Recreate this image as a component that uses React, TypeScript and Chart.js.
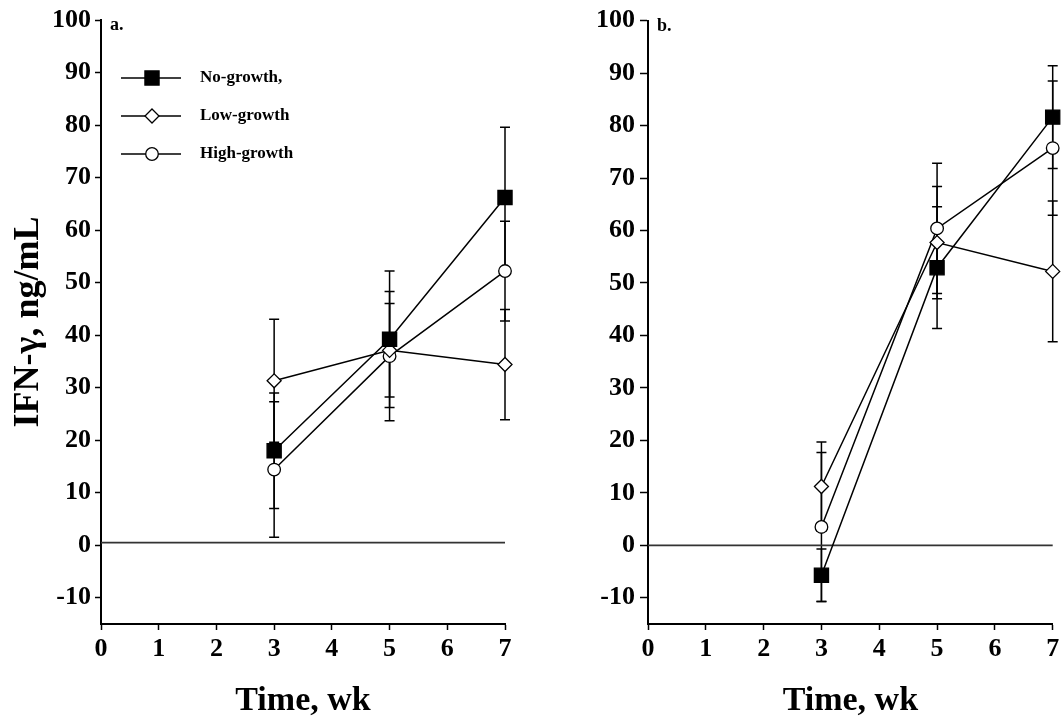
import React, { useEffect, useRef } from "react";
import { Chart, registerables } from "chart.js";

Chart.register(...registerables);

// ---------- data ----------
const weeks = [3, 5, 7];
const xTickValues = [0, 1, 2, 3, 4, 5, 6, 7];
const yTickValues = [-10, 0, 10, 20, 30, 40, 50, 60, 70, 80, 90, 100];
const yMin = -15;
const yMax = 100;
const xMin = 0;
const xMax = 7;

const seriesNames = ["No-growth,", "Low-growth", "High-growth"];
const xTitle = "Time, wk";
const yTitle = "IFN-γ, ng/mL";
const panelLabels = ["a.", "b."];

// panel a
const noGrowthA = [18.0, 39.2, 66.2];
const noGrowthAErr = [11.0, 13.0, 13.4];
const lowGrowthA = [31.3, 37.1, 34.4];
const lowGrowthAErr = [11.7, 8.9, 10.5];
const highGrowthA = [14.4, 36.0, 52.2];
const highGrowthAErr = [12.9, 12.3, 9.5];
const baselineA = 0.5;

// panel b
const noGrowthB = [-5.7, 52.9, 81.6];
const noGrowthBErr = [5.0, 11.6, 9.8];
const lowGrowthB = [11.2, 57.7, 52.2];
const lowGrowthBErr = [8.5, 10.7, 13.4];
const highGrowthB = [3.5, 60.4, 75.7];
const highGrowthBErr = [14.2, 12.4, 12.8];
const baselineB = 0;

// ---------- styles ----------
const FONT = "'Liberation Serif', 'Times New Roman', serif";
const seriesStyles = [
  { pointStyle: "rect", radius: 10, fill: "#000" },
  { pointStyle: "rectRot", radius: 7, fill: "#fff" },
  { pointStyle: "circle", radius: 6.3, fill: "#fff" },
];

const errorBarPlugin = {
  id: "errorBars",
  beforeDatasetsDraw(chart: any) {
    const { ctx, scales } = chart;
    const x = scales.x;
    const y = scales.y;
    ctx.save();
    ctx.strokeStyle = "#000";
    ctx.lineWidth = 1.5;
    chart.data.datasets.forEach((ds: any) => {
      if (!ds.errors) return;
      ds.data.forEach((p: any, i: number) => {
        const e = ds.errors[i];
        const px = x.getPixelForValue(p.x);
        const top = y.getPixelForValue(p.y + e);
        const bot = y.getPixelForValue(p.y - e);
        ctx.beginPath();
        ctx.moveTo(px, top);
        ctx.lineTo(px, bot);
        ctx.moveTo(px - 5, top);
        ctx.lineTo(px + 5, top);
        ctx.moveTo(px - 5, bot);
        ctx.lineTo(px + 5, bot);
        ctx.stroke();
      });
    });
    ctx.restore();
  },
};

function drawMarker(ctx: CanvasRenderingContext2D, style: string, r: number, fill: string, cx: number, cy: number) {
  ctx.beginPath();
  if (style === "rect") {
    const s = Math.SQRT1_2 * r;
    ctx.rect(cx - s, cy - s, 2 * s, 2 * s);
  } else if (style === "rectRot") {
    ctx.moveTo(cx, cy - r);
    ctx.lineTo(cx + r, cy);
    ctx.lineTo(cx, cy + r);
    ctx.lineTo(cx - r, cy);
    ctx.closePath();
  } else {
    ctx.arc(cx, cy, r, 0, Math.PI * 2);
  }
  ctx.fillStyle = fill;
  ctx.fill();
  ctx.stroke();
}

const panelDecorPlugin = {
  id: "panelDecor",
  afterDraw(chart: any, _args: any, opts: any) {
    const { ctx, chartArea } = chart;
    ctx.save();
    ctx.fillStyle = "#000";
    ctx.font = `bold 18px ${FONT}`;
    ctx.textBaseline = "alphabetic";
    ctx.textAlign = "left";
    ctx.fillText(opts.label, chartArea.left + 9, chartArea.top + 10);
    if (opts.legend) {
      const rows = [58, 96, 134];
      seriesNames.forEach((name, i) => {
        const yy = chartArea.top + rows[i];
        const st = seriesStyles[i];
        ctx.strokeStyle = "#000";
        ctx.lineWidth = 1.5;
        ctx.beginPath();
        ctx.moveTo(chartArea.left + 20, yy);
        ctx.lineTo(chartArea.left + 80, yy);
        ctx.stroke();
        ctx.lineWidth = 1.3;
        drawMarker(ctx, st.pointStyle, st.radius, st.fill, chartArea.left + 51, yy);
        ctx.fillStyle = "#000";
        ctx.font = `bold 17px ${FONT}`;
        ctx.textBaseline = "middle";
        ctx.fillText(name, chartArea.left + 99, yy);
      });
    }
    ctx.restore();
  },
};

function buildConfig(p: {
  series: number[][];
  errors: number[][];
  baseline: number;
  yAxisWidth: number;
  rightPad: number;
  showYTitle: boolean;
  label: string;
  legend: boolean;
  yTickLength: number;
  yTickPad: number;
}) {
  const datasets: any[] = p.series.map((vals, i) => ({
    label: seriesNames[i],
    data: weeks.map((w, j) => ({ x: w, y: vals[j] })),
    errors: p.errors[i],
    borderColor: "#000",
    borderWidth: 1.5,
    pointStyle: seriesStyles[i].pointStyle,
    pointRadius: seriesStyles[i].radius,
    pointBackgroundColor: seriesStyles[i].fill,
    pointBorderColor: "#000",
    pointBorderWidth: 1.3,
    tension: 0,
    fill: false,
    clip: false,
  }));
  datasets.push({
    label: "baseline",
    data: [
      { x: xMin, y: p.baseline },
      { x: xMax, y: p.baseline },
    ],
    borderColor: "#333",
    borderWidth: 1.8,
    pointRadius: 0,
    fill: false,
    clip: false,
  });

  const tickFont = { family: FONT, size: 26, weight: "bold" as const, lineHeight: 1.2 };
  return {
    type: "line" as const,
    data: { datasets },
    plugins: [errorBarPlugin, panelDecorPlugin],
    options: {
      responsive: false,
      animation: false as const,
      events: [],
      layout: { padding: { top: 20, right: p.rightPad, bottom: 0, left: 0 } },
      plugins: {
        legend: { display: false },
        tooltip: { enabled: false },
        panelDecor: { label: p.label, legend: p.legend },
      },
      scales: {
        x: {
          type: "linear" as const,
          min: xMin,
          max: xMax,
          afterBuildTicks: (s: any) => {
            s.ticks = xTickValues.map((v) => ({ value: v }));
          },
          afterFit: (s: any) => {
            s.height = 96;
          },
          ticks: { color: "#000", font: tickFont, padding: 4, maxRotation: 0 },
          grid: {
            display: true,
            drawOnChartArea: false,
            drawTicks: true,
            tickLength: 6,
            tickWidth: 1.5,
            tickColor: "#000",
          },
          border: { display: true, color: "#000", width: 2 },
          title: {
            display: true,
            text: xTitle,
            color: "#000",
            font: { family: FONT, size: 34, weight: "bold" as const, lineHeight: 1.1 },
            padding: { top: 0, bottom: 0 },
          },
        },
        y: {
          type: "linear" as const,
          min: yMin,
          max: yMax,
          afterBuildTicks: (s: any) => {
            s.ticks = yTickValues.map((v) => ({ value: v }));
          },
          afterFit: (s: any) => {
            s.width = p.yAxisWidth;
          },
          ticks: { color: "#000", font: tickFont, padding: p.yTickPad },
          grid: {
            display: true,
            drawOnChartArea: false,
            drawTicks: true,
            tickLength: p.yTickLength,
            tickWidth: 1.5,
            tickColor: "#000",
          },
          border: { display: true, color: "#000", width: 2 },
          title: {
            display: p.showYTitle,
            text: yTitle,
            color: "#000",
            font: { family: FONT, size: 36, weight: "bold" as const, lineHeight: 1.2 },
            padding: { top: 7, bottom: 0 },
          },
        },
      },
    },
  };
}

export default function App() {
  const refA = useRef<HTMLCanvasElement>(null);
  const refB = useRef<HTMLCanvasElement>(null);

  useEffect(() => {
    const chartA = new Chart(
      refA.current as HTMLCanvasElement,
      buildConfig({
        series: [noGrowthA, lowGrowthA, highGrowthA],
        errors: [noGrowthAErr, lowGrowthAErr, highGrowthAErr],
        baseline: baselineA,
        yAxisWidth: 101,
        rightPad: 55,
        showYTitle: true,
        label: panelLabels[0],
        legend: true,
        yTickLength: 6,
        yTickPad: 4,
      }) as any
    );
    const chartB = new Chart(
      refB.current as HTMLCanvasElement,
      buildConfig({
        series: [noGrowthB, lowGrowthB, highGrowthB],
        errors: [noGrowthBErr, lowGrowthBErr, highGrowthBErr],
        baseline: baselineB,
        yAxisWidth: 88,
        rightPad: 6,
        showYTitle: false,
        label: panelLabels[1],
        legend: false,
        yTickLength: 8,
        yTickPad: 5,
      }) as any
    );
    return () => {
      chartA.destroy();
      chartB.destroy();
    };
  }, []);

  return (
    <div
      style={{
        position: "absolute",
        left: 0,
        top: 0,
        width: 1064,
        height: 720,
        background: "#fff",
        overflow: "hidden",
      }}
    >
      <canvas ref={refA} width={560} height={720} style={{ position: "absolute", left: 0, top: 0 }} />
      <canvas ref={refB} width={504} height={720} style={{ position: "absolute", left: 560, top: 0 }} />
    </div>
  );
}
